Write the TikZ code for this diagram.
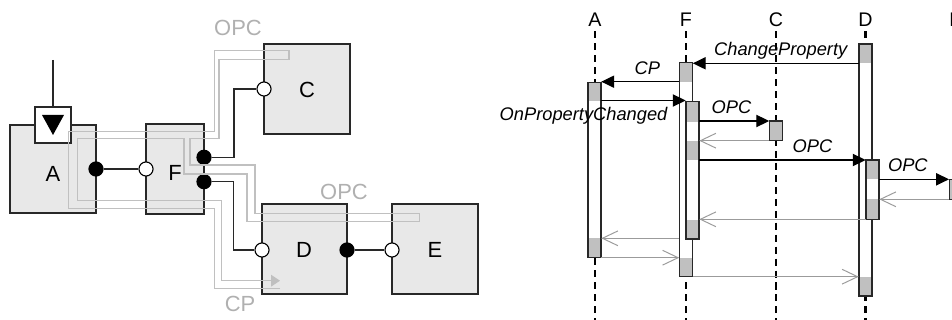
\documentclass[tikz,border=0pt]{standalone}
\usepackage{fontspec}
\setmainfont{Liberation Sans}
\usepackage{tikz}
\usetikzlibrary{arrows.meta, fit, calc}
\definecolor{BoxFill}{RGB}{232,232,232}
\definecolor{TubeGrey}{RGB}{192,192,192}
\definecolor{NoteGrey}{RGB}{176,176,176}
\definecolor{BarShade}{RGB}{192,192,192}
\definecolor{ReplyGrey}{RGB}{155,155,155}
\definecolor{EdgeDark}{RGB}{40,40,40}
\tikzset{
  compbox/.style={draw=EdgeDark, line width=0.9pt, fill=BoxFill, inner sep=0pt},
  complabel/.style={font=\fontsize{15.6}{18}\selectfont, inner sep=0pt},
  portfull/.style={circle, draw=black, fill=black, line width=0.8pt, minimum size=10pt, inner sep=0pt},
  portopen/.style={circle, draw=black, fill=white, line width=0.8pt, minimum size=10pt, inner sep=0pt},
  plugbox/.style={draw=EdgeDark, line width=0.9pt, fill=white, minimum size=25.6pt, inner sep=0pt},
  wire/.style={draw=EdgeDark, line width=0.9pt},
  tube/.style={draw=TubeGrey, line width=0.9pt},
  tubelabel/.style={text=NoteGrey, font=\fontsize{15.6}{18}\selectfont, inner sep=0pt},
  lifehead/.style={font=\fontsize{14}{16}\selectfont, inner sep=3pt},
  lifeline/.style={draw=black, line width=1.6pt, dash pattern=on 5pt off 3.5pt},
  barline/.style={draw=EdgeDark, line width=0.9pt},
  msg/.style={draw=black, line width=0.9pt, -{Triangle[length=9.2pt, width=8.7pt]}},
  reply/.style={draw=ReplyGrey, line width=0.7pt, -{Straight Barb[length=11pt, width=10.5pt]}},
  msglabel/.style={font=\itshape\fontsize{13}{15}\selectfont, inner sep=0pt, text depth=0pt},
}
% activation bar: name, left x, top y, bottom y, shaded bands
\newcommand{\actbar}[5]{%
  \fill[white] (#2,#3) rectangle (#2+13,#4);
  \foreach \bandtop/\bandbot in {#5}
    \fill[BarShade] (#2,\bandtop) rectangle (#2+13,\bandbot);
  \draw[barline] (#2,#3) rectangle (#2+13,#4);
  \node[fit={(#2,#3) (#2+13,#4)}, inner sep=0pt] (#1) {};
}

\begin{document}
\begin{tikzpicture}[x=0.025cm, y=-0.025cm, >=Stealth]
  \useasboundingbox (0,0) rectangle (952,320);

  % --- component view ---
  \node[compbox, fit={(10,125) (96,213)}] (A) {};
  \node[compbox, fit={(146,124) (204,214)}] (F) {};
  \node[compbox, fit={(264,44) (350,134)}] (C) {};
  \node[compbox, fit={(262,204) (347,294)}] (D) {};
  \node[compbox, fit={(392,204) (478,294)}] (E) {};
  \node[complabel] (labA) at (53,174) {A};
  \node[complabel] (labF) at (175,173) {F};
  \node[complabel] (labC) at (307,90) {C};
  \node[complabel] (labD) at (304,250) {D};
  \node[complabel] (labE) at (435,250) {E};

  \node[portfull] (pA) at (96,169) {};
  \node[portopen] (pFin) at (146,169) {};
  \node[portfull] (pFc) at (204,157.3) {};
  \node[portfull] (pFd) at (204,181.7) {};
  \node[portopen] (pC) at (264,89) {};
  \node[portopen] (pDin) at (262,250) {};
  \node[portfull] (pDe) at (347,250) {};
  \node[portopen] (pE) at (392,250) {};

  \draw[wire] (pA) -- (pFin);
  \draw[wire] (pFc) -- ++(30,0) |- (pC);
  \draw[wire] (pFd) -- ++(29.3,0) |- (pDin);
  \draw[wire] (pDe) -- (pE);

  \coordinate (feed) at (53,60);
  \node[plugbox] (plugA) at (53,125) {};
  \draw[wire] (feed) -- (plugA);
  \fill[black] ($(plugA)+(-11,-10)$) -- ++(22,0) -- ++(-11,20) -- cycle;

  % property path
  \draw[tube, -{Triangle[length=6.4pt, width=8.3pt]}]
    (280,288.3) -- (214.3,288.3) -- (214.3,208.5) -- (68.3,208.5) -- (68.3,131.7)
    -- (214.3,131.7) -- (214.3,50.7) -- (289,50.7) -- (289,59.3) -- (219,59.3)
    -- (219,138.3) -- (190,138.3) -- (190,165) -- (255,165) -- (255,213.3)
    -- (419.3,213.3) -- (419.3,221.7) -- (247,221.7) -- (247,174) -- (184,174)
    -- (184,138.3) -- (77.3,138.3) -- (77.3,200.7) -- (221.7,200.7) -- (221.7,280.7)
    -- (280,280.7);
  \node[tubelabel] (opcTop) at (238,28) {OPC};
  \node[tubelabel] (opcMid) at (344,192) {OPC};
  \node[tubelabel] (cpLow) at (240,304) {CP};

  % --- sequence view ---
  \foreach \who/\xpos in {A/595, F/686, C/776, D/865.5, E/956} {
    \node[lifehead] (head\who) at (\xpos,20) {\who};
    \coordinate (foot\who) at (\xpos,322);
    \draw[lifeline] (head\who) -- (foot\who);
  }

  \actbar{aA}{588}{82.3}{257.7}{82.3/101, 238.3/257.7}
  \actbar{aF1}{679.5}{62.7}{276.7}{62.7/81.7, 257.7/276.7}
  \actbar{aF2}{686}{101.7}{239}{101.7/121.7, 140.7/160, 220/239}
  \actbar{aC}{769.5}{121}{140.7}{121/140.7}
  \actbar{aD1}{859}{44}{296}{44/63.3, 276.7/296}
  \actbar{aD2}{866}{160}{219.3}{160/179.3, 199.3/219.3}
  \actbar{aE}{949.3}{179.3}{199.3}{179.3/199.3}

  \draw[msg] (aD1.west |- 0,63.3) -- node[msglabel, above=5pt, pos=0.47] {ChangeProperty} (aF1.east |- 0,63.3);
  \draw[msg] (aF1.west |- 0,81.7) -- node[msglabel, above=5pt, pos=0.41] {CP} (aA.east |- 0,81.7);
  \draw[msg] (aA.east |- 0,100.5) -- node[msglabel, anchor=north east, yshift=-4pt, pos=0.79] {OnPropertyChanged} (aF2.west |- 0,100.5);
  \draw[msg] (aF2.east |- 0,121) -- node[msglabel, above=5pt, pos=0.46] {OPC} (aC.west |- 0,121);
  \draw[reply] (aC.west |- 0,140.7) -- (aF2.east |- 0,140.7);
  \draw[msg] (aF2.east |- 0,160) -- node[msglabel, above=5pt, pos=0.68] {OPC} (aD2.west |- 0,160);
  \draw[msg] (aD2.east |- 0,179.3) -- node[msglabel, above=5pt, pos=0.41] {OPC} (aE.west |- 0,179.3);
  \draw[reply] (aE.west |- 0,199.3) -- (aD2.east |- 0,199.3);
  \draw[reply] (aD2.west |- 0,219.3) -- (aF2.east |- 0,219.3);
  \draw[reply] (aF1.west |- 0,238.3) -- (aA.east |- 0,238.3);
  \draw[reply] (aA.east |- 0,257.7) -- (aF1.west |- 0,257.7);
  \draw[reply] (aF1.east |- 0,276.7) -- (aD1.west |- 0,276.7);
\end{tikzpicture}
\end{document}
